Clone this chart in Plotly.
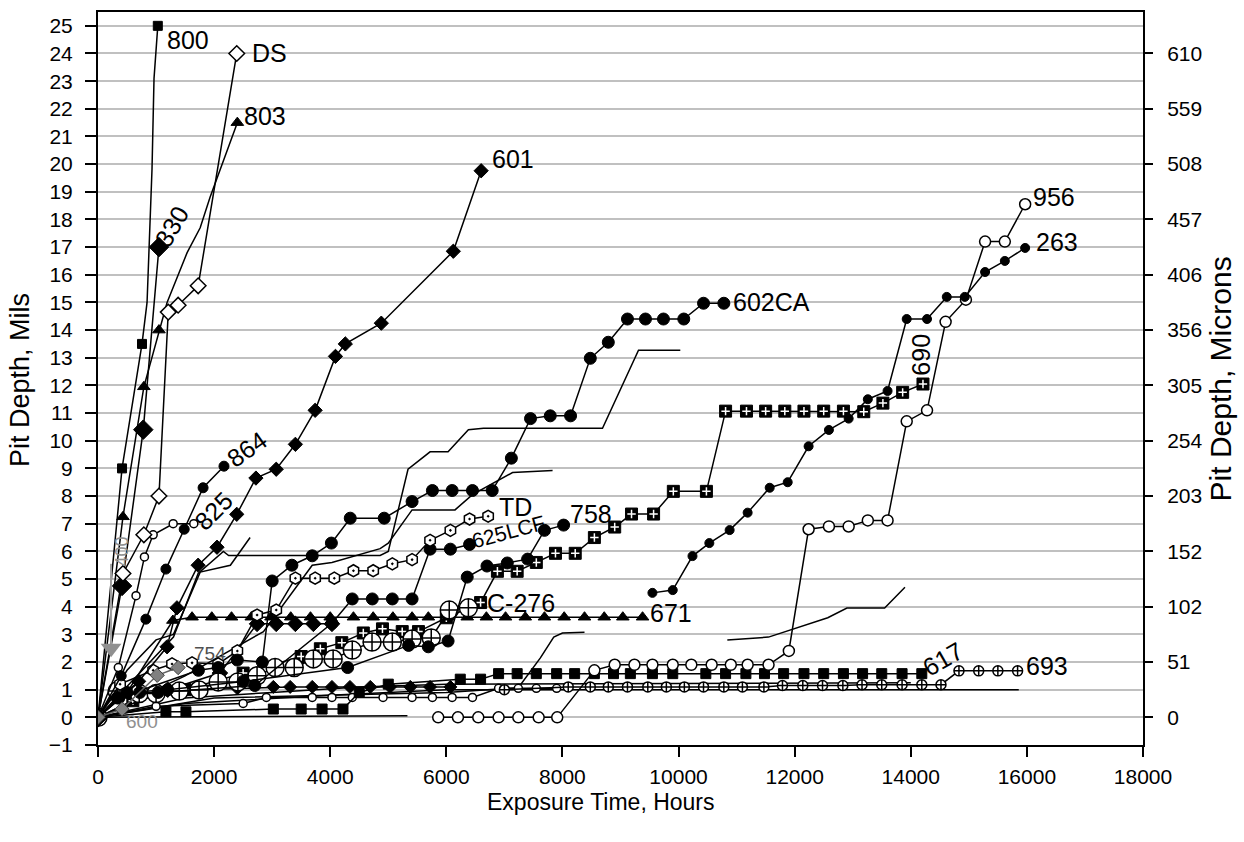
import plotly.graph_objects as go

# ---------------- data (hours, mils) ----------------
s800_x = [0, 414, 758, 845, 930, 965, 1030]
s800_y = [0, 9.0, 13.5, 15.0, 19.8, 23.1, 25.0]
s800_mx = [414, 758, 1030]          # points carrying a marker
s800_my = [9.0, 13.5, 25.0]

sDS_x = [0, 430, 790, 1050, 1210, 1380, 1725, 2390]
sDS_y = [0, 5.2, 6.6, 8.0, 14.65, 14.9, 15.6, 24.0]

s803_x = [0, 430, 790, 1050, 1190, 1535, 1760, 1930, 2400]
s803_y = [0, 7.25, 11.95, 14.0, 15.0, 16.8, 17.7, 18.8, 21.5]
s803_mx = [430, 790, 1050, 2400]
s803_my = [7.25, 11.95, 14.0, 21.5]

s330_x = [0, 414, 780, 1050]
s330_y = [0, 4.75, 10.4, 17.0]

s601_x = [0, 700, 1190, 1360, 1725, 2050, 2390, 2720, 3070, 3400, 3740, 4090, 4260, 4880, 6120, 6600]
s601_y = [0, 1.3, 2.55, 3.96, 5.5, 6.15, 7.34, 8.65, 8.97, 9.87, 11.1, 13.05, 13.5, 14.25, 16.85, 19.76]

s864_x = [0, 400, 825, 1170, 1485, 1810, 2170]
s864_y = [0, 1.5, 3.55, 5.36, 6.8, 8.3, 9.08]

s825_x = [0, 350, 655, 800, 950, 1295, 1650]
s825_y = [0, 1.8, 4.4, 5.8, 6.6, 7.0, 7.0]

s602_x = [0, 360, 1730, 2070, 2400, 2830, 3000, 3340, 3690, 4020, 4345, 4930, 5410, 5760, 6100, 6450,
          6790, 7120, 7450, 7790, 8140, 8480, 8790, 9120, 9430, 9740, 10090, 10430, 10780]
s602_y = [0, 0.7, 1.7, 1.8, 2.07, 2.0, 4.93, 5.5, 5.84, 6.3, 7.2, 7.2, 7.8, 8.2, 8.2, 8.2,
          8.2, 9.37, 10.8, 10.9, 10.9, 12.98, 13.56, 14.4, 14.4, 14.4, 14.4, 14.97, 14.97]

sTD_x = [0, 380, 950, 1275, 1620, 2070, 2400, 2740, 3070, 3400, 3740, 4070, 4400, 4740, 5070, 5410,
         5720, 6070, 6400, 6720]
sTD_y = [0, 1.2, 1.7, 1.93, 1.97, 1.93, 2.4, 3.7, 3.88, 5.03, 5.03, 5.03, 5.3, 5.3, 5.55, 5.7,
         6.4, 6.76, 7.17, 7.27]

s625_x = [0, 330, 720, 1035, 2700, 4030, 4380, 4725, 5070, 5410, 5720, 6070, 6400]
s625_y = [0, 0.7, 0.9, 0.9, 1.15, 3.4, 4.28, 4.28, 4.28, 4.28, 6.08, 6.08, 6.25]

s758_x = [0, 500, 1200, 2500, 4300, 5350, 5690, 6030, 6360, 6700, 7050, 7400, 7690, 8020]
s758_y = [0, 0.9, 1.0, 1.3, 1.8, 2.6, 2.55, 2.76, 5.07, 5.47, 5.58, 5.72, 6.76, 6.95]

sC276_x = [0, 330, 710, 1000, 1400, 1740, 2070, 2410, 2740, 3050, 3380, 3710, 4050, 4380, 4720,
           5070, 5410, 5740, 6050, 6380]
sC276_y = [0, 0.95, 0.86, 0.86, 0.95, 0.99, 1.28, 1.28, 1.5, 1.8, 1.8, 2.11, 2.11, 2.43, 2.72,
           2.72, 2.83, 2.87, 3.88, 3.96]

s671_x = [0, 500, 1290, 1620, 1960, 2300, 2640, 2980, 3320, 3660, 4000, 4400, 4740, 5080, 5410,
          5690, 6030, 6360, 6690, 7020, 7360, 7690, 8030, 8380, 8720, 9040, 9380]
s671_y = [0, 0.9, 3.5] + [3.62] * 24

sD2_x = [0, 1200, 2100, 2740, 3070, 3400, 3710, 4030]
sD2_y = [0, 1.0, 1.6, 3.38, 3.38, 3.38, 3.38, 3.38]

s690_x = [0, 600, 1500, 2500, 3500, 3830, 4200, 4570, 4900, 5240, 5520, 6000, 6590, 6880, 7220,
          7550, 7880, 8220, 8550, 8900, 9190, 9570, 9910, 10480, 10810, 11170, 11500, 11830,
          12160, 12500, 12840, 13190, 13520, 13860, 14210]
s690_y = [0, 0.6, 1.0, 1.6, 2.2, 2.48, 2.7, 3.05, 3.2, 3.1, 3.1, 3.6, 4.15, 5.28, 5.28,
          5.6, 5.93, 5.93, 6.5, 6.88, 7.35, 7.35, 8.17, 8.17, 11.07, 11.07, 11.07, 11.07,
          11.07, 11.07, 11.07, 11.05, 11.36, 11.75, 12.05]

s263_x = [9550, 9900, 10240, 10530, 10880, 11190, 11570, 11880, 12240, 12590, 12930, 13260, 13600,
          13930, 14280, 14620, 14930, 15280, 15620, 15970]
s263_y = [4.5, 4.6, 5.83, 6.3, 6.77, 7.4, 8.3, 8.5, 9.8, 10.39, 10.8, 11.5, 11.8,
          14.4, 14.4, 15.2, 15.2, 16.1, 16.5, 16.97]

s956_x = [5860, 6200, 6550, 6900, 7240, 7590, 7910, 8550, 8900, 9240, 9550, 9900, 10220, 10570,
          10900, 11190, 11550, 11900, 12240, 12590, 12930, 13260, 13600, 13930, 14280, 14600,
          14950, 15280, 15620, 15970]
s956_y = [0, 0, 0, 0, 0, 0, 0, 1.7, 1.9, 1.9, 1.9, 1.9, 1.9, 1.9,
          1.9, 1.9, 1.9, 2.4, 6.8, 6.9, 6.9, 7.12, 7.12, 10.7, 11.1, 14.3,
          15.1, 17.2, 17.2, 18.55]

s617_x = [0, 1170, 1515, 3020, 3500, 3860, 4220, 4500, 5000, 6240, 6590, 6900, 7220, 7550, 7900,
          8210, 8550, 8880, 9170, 9550, 9900, 10470, 10810, 11160, 11480, 11810, 12160, 12500,
          12840, 13170, 13500, 13850, 14190]
s617_y = [0, 0.2, 0.2, 0.3, 0.3, 0.3, 0.3, 0.9, 1.2, 1.38, 1.38] + [1.58] * 22

s693_x = [7000, 8100, 8480, 8790, 9120, 9470, 9790, 10100, 10430, 10780, 11100, 11470, 11790,
          12140, 12480, 12830, 13160, 13500, 13850, 14190, 14520, 14830, 15170, 15500, 15840]
s693_y = [1.0, 1.1, 1.1, 1.1, 1.1, 1.1, 1.1, 1.1, 1.1, 1.1, 1.1, 1.1, 1.15,
          1.15, 1.15, 1.15, 1.18, 1.18, 1.18, 1.18, 1.18, 1.68, 1.68, 1.68, 1.68]

sL2_x = [0, 1000, 2500, 2900, 3690, 4030, 4380, 4910, 5410, 5760, 6100, 6450, 6900, 7240, 7550, 7900]
sL2_y = [0, 0.4, 0.5, 0.72, 0.72, 0.72, 0.72, 0.72, 0.72, 0.72, 0.72, 0.72, 1.05, 1.05, 1.05, 1.05]

sL1_x = [0, 380, 1000, 1700, 2400, 3020, 3310, 3690, 4030, 4340, 4690, 5030, 5380, 5720, 6070]
sL1_y = [0, 0.75, 0.95, 1.0, 1.05, 1.1, 1.1, 1.1, 1.1, 1.1, 1.1, 1.1, 1.1, 1.1, 1.1]

s600_x = [0, 414, 1020, 1380]
s600_y = [0, 0.3, 1.52, 1.8]

s400_x = [225, 225]
s400_y = [5.55, 2.5]

# plain lines (no markers)
lc_x = [0, 1300, 1725, 2160, 2250, 4860, 5000, 5340, 5720, 6030, 6380, 6640, 8690, 9000, 9310, 10030]
lc_y = [0, 2.9, 5.2, 6.0, 5.85, 5.85, 6.0, 8.97, 9.6, 9.6, 10.4, 10.45, 10.45, 11.85, 13.27, 13.27]
ld_x = [0, 1500, 2850, 3690, 4030, 4860, 5000, 5410, 6150, 6450, 7140, 7830]
ld_y = [0, 1.5, 3.1, 5.5, 5.6, 6.1, 6.3, 7.5, 7.5, 8.05, 8.85, 8.92]
le_x = [0, 500, 1000, 1300, 1760, 2280, 2620]
le_y = [0, 1.7, 2.8, 3.0, 5.25, 5.5, 6.5]
lf_x = [10840, 11550, 12570, 12900, 13550, 13900]
lf_y = [2.8, 2.9, 3.6, 3.95, 3.95, 4.7]
lg_x = [0, 2000, 6000, 7240, 7620, 7850, 8000, 8380]
lg_y = [0, 0.7, 0.9, 1.07, 2.15, 2.9, 3.05, 3.08]
n1_x = [0, 1500, 4000, 6000, 15860]
n1_y = [0, 0.5, 0.8, 1.0, 1.0]
n2_x = [0, 5330]
n2_y = [0, 0.06]
n3_x = [0, 1500, 3000, 4500, 6000, 14000]
n3_y = [0, 0.7, 0.9, 1.1, 1.2, 1.25]

micron_vals = [0, 2, 4, 6, 8, 10, 12, 14, 16, 18, 20, 22, 24]
micron_text = ["0", "51", "102", "152", "203", "254", "305", "356", "406", "457", "508", "559", "610"]

# series labels
lab_text = ["800", "DS", "803", "601", "602CA", "956", "263", "TD", "758", "625LCF", "C-276", "671",
            "690", "617", "693", "330", "864", "825", "400", "754", "600"]
lab_x = [1155, 2620, 2480, 6760, 10900, 16070, 16120, 6880, 8100, 7070, 6670, 9480,
         14170, 14550, 15950, 1275, 2570, 1990, 414, 1930, 760]
lab_y = [24.5, 24.0, 21.75, 20.2, 15.0, 18.8, 17.2, 7.6, 7.35, 6.73, 4.15, 3.78,
         13.1, 2.1, 1.87, 17.75, 9.7, 7.45, 6.0, 2.3, -0.15]

# ---------------- figure ----------------
BLACK = "black"
FAM = "Liberation Sans, Arial"
fig = go.Figure()


def add(x, y, symbol=None, size=10, fill=BLACK, lw=1.5, mline=BLACK, mlw=1, color=BLACK, mode=None):
    if symbol is None:
        fig.add_trace(go.Scatter(x=x, y=y, mode="lines", line=dict(color=color, width=lw),
                                 showlegend=False, hoverinfo="skip"))
    else:
        fig.add_trace(go.Scatter(x=x, y=y, mode=mode or "lines+markers", line=dict(color=color, width=lw),
                                 marker=dict(symbol=symbol, size=size, color=fill,
                                             line=dict(color=mline, width=mlw)),
                                 showlegend=False, hoverinfo="skip"))


for lx, ly in [(lc_x, lc_y), (ld_x, ld_y), (le_x, le_y), (lf_x, lf_y), (lg_x, lg_y),
               (n1_x, n1_y), (n2_x, n2_y), (n3_x, n3_y)]:
    add(lx, ly)

add(sL2_x, sL2_y, "circle", 8, "white", mlw=1.5)
add(sL1_x, sL1_y, "diamond", 10, BLACK)
add(s693_x, s693_y, "circle-cross", 10, "white", mlw=1.5)
add(s617_x, s617_y, "square", 10, BLACK)
add(s956_x, s956_y, "circle", 11, "white", mlw=1.5)
add(s263_x, s263_y, "circle", 9, BLACK)
add(s690_x, s690_y, "square", 12, BLACK)
fig.add_trace(go.Scatter(x=s690_x, y=s690_y, mode="markers",
                         marker=dict(symbol="cross-thin-open", size=6, color="white",
                                     line=dict(color="white", width=1.5)),
                         showlegend=False, hoverinfo="skip"))
add(sD2_x, sD2_y, "diamond", 12, BLACK)
add(s671_x, s671_y, "triangle-up", 11, BLACK)
add(sC276_x, sC276_y, "circle-cross", 18, "white", mlw=1.5)
add(s758_x, s758_y, "circle", 12, BLACK)
add(s625_x, s625_y, "circle", 12, BLACK)
add(sTD_x, sTD_y, "hexagon-dot", 12, "white", mlw=1.5)
add(s602_x, s602_y, "circle", 12, BLACK)
add(s825_x, s825_y, "circle", 8, "white", mlw=1.5)
add(s864_x, s864_y, "circle", 10, BLACK)
add(s601_x, s601_y, "diamond", 11, BLACK)
add(s330_x, s330_y, "diamond", 15, BLACK)
add(s803_x, s803_y)
add(s803_mx, s803_my, "triangle-up", 11, BLACK, mode="markers")
add(sDS_x, sDS_y, "diamond", 12, "white", mlw=1.5)
add(s800_x, s800_y)
add(s800_mx, s800_my, "square", 9, BLACK, mode="markers")
add(s600_x, s600_y, "diamond", 11, "#808080", mline="#404040", color="#606060")
fig.add_trace(go.Scatter(x=s400_x, y=s400_y, mode="lines", line=dict(color="#a0a0a0", width=2),
                         showlegend=False, hoverinfo="skip"))
fig.add_trace(go.Scatter(x=s400_x[-1:], y=s400_y[-1:], mode="markers",
                         marker=dict(symbol="triangle-down", size=18, color="#909090"),
                         showlegend=False, hoverinfo="skip"))

# invisible trace for right axis
fig.add_trace(go.Scatter(x=[0], y=[0], yaxis="y2", mode="markers", marker=dict(opacity=0),
                         showlegend=False, hoverinfo="skip"))

angles = {"690": -90, "617": -30, "330": -60, "864": -35, "825": -45, "400": -90, "625LCF": -15}
sizes = {"625LCF": 21, "754": 19, "400": 18, "600": 19}
colors = {"754": "#505050", "400": "#909090", "600": "#909090"}
centered = {"690", "617", "330", "864", "825", "400", "625LCF", "754", "600"}
for t, x, y in zip(lab_text, lab_x, lab_y):
    fig.add_annotation(x=x, y=y, text=t, showarrow=False,
                       xanchor="center" if t in centered else "left", yanchor="middle",
                       textangle=angles.get(t, 0),
                       font=dict(family=FAM, size=sizes.get(t, 25), color=colors.get(t, BLACK)))

# axis titles (placed as paper annotations)
fig.add_annotation(xref="paper", yref="paper", x=0.4813, y=-0.0776, text="Exposure Time, Hours",
                   showarrow=False, xanchor="center", yanchor="middle",
                   font=dict(family=FAM, size=23, color=BLACK))
fig.add_annotation(xref="paper", yref="paper", x=-0.0746, y=0.498, text="Pit Depth, Mils",
                   showarrow=False, xanchor="center", yanchor="middle", textangle=-90,
                   font=dict(family=FAM, size=27, color=BLACK))
fig.add_annotation(xref="paper", yref="paper", x=1.0746, y=0.5, text="Pit Depth, Microns",
                   showarrow=False, xanchor="center", yanchor="middle", textangle=-90,
                   font=dict(family=FAM, size=30, color=BLACK))

FONT = dict(family=FAM, size=21, color=BLACK)
fig.update_layout(
    width=1244, height=842,
    margin=dict(l=98, r=101, t=10, b=97),
    paper_bgcolor="white", plot_bgcolor="white",
    font=FONT,
    xaxis=dict(range=[0, 18000], dtick=2000, tick0=0, tickformat="d", showgrid=False, zeroline=False,
               showline=True, linecolor=BLACK, linewidth=2, mirror=True,
               ticks="outside", ticklen=10, tickwidth=1.5, tickcolor=BLACK,
               tickfont=FONT, ticklabelstandoff=2),
    yaxis=dict(range=[-1, 25.5], dtick=1, tick0=0, showgrid=True, gridcolor="#c0c0c0", gridwidth=2,
               zeroline=False, showline=True, linecolor=BLACK, linewidth=2,
               ticks="outside", ticklen=11, tickwidth=1.5, tickcolor=BLACK, tickfont=FONT,
               ticklabelstandoff=8),
    yaxis2=dict(range=[-1, 25.5], overlaying="y", side="right", tickmode="array",
                tickvals=micron_vals, ticktext=micron_text, showgrid=False, zeroline=False,
                showline=True, linecolor=BLACK, linewidth=2,
                ticks="outside", ticklen=8, tickwidth=1.5, tickcolor=BLACK, tickfont=FONT,
                ticklabelstandoff=10),
)

fig.write_html("out.html")
